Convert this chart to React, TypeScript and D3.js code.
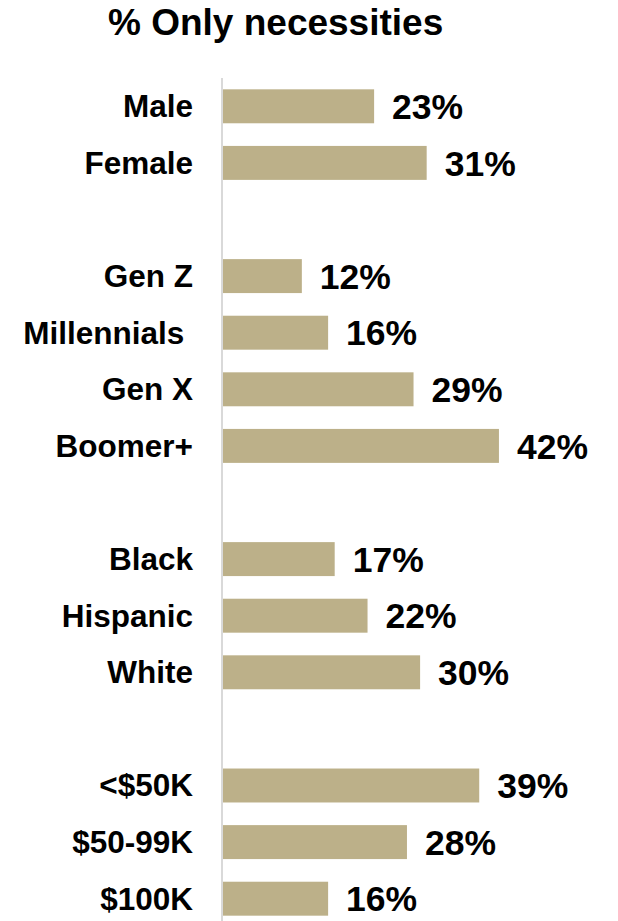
import React from "react";
import * as d3 from "d3";

const categories = ["Male", "Female", "", "Gen Z", "Millennials ", "Gen X", "Boomer+", " ", "Black", "Hispanic", "White", "  ", "<$50K", "$50-99K", "$100K"];
const values: (number | null)[] = [23, 31, null, 12, 16, 29, 42, null, 17, 22, 30, null, 39, 28, 16];
const title = "% Only necessities";

const W = 618;
const H = 921;
const FONT = "'Liberation Sans', Arial, sans-serif";

export default function App() {
  const y = d3.scaleBand<string>().domain(categories).range([78, 927]).paddingInner(0.4).paddingOuter(0.2);
  const x = d3.scaleLinear().domain([0, 100]).range([223, 223 + 657]);
  const bw = y.bandwidth();
  return (
    <svg width={W} height={H} style={{ position: "absolute", left: 0, top: 0, display: "block" }} fontFamily={FONT}>
      <rect width={W} height={H} fill="#ffffff" />
      <text x={108} y={35} textAnchor="start" fontSize={37} fontWeight="bold" fill="#000">{title}</text>
      <line x1={222} x2={222} y1={78} y2={H} stroke="#d9d9d9" strokeWidth={2} />
      {categories.map((c, i) => {
        const v = values[i];
        const yy = y(c)!;
        const cy = yy + bw / 2;
        if (v === null) return null;
        return (
          <g key={i}>
            <rect x={x(0)} y={yy} width={x(v) - x(0)} height={bw} fill="#bcb089" />
            <text x={193} y={cy + 10.8} textAnchor="end" fontSize={31.5} fontWeight="bold" fill="#000" style={{ whiteSpace: "pre" }}>{c}</text>
            <text x={x(v) + 18} y={cy + 12.7} fontSize={35.5} fontWeight="bold" fill="#000">{v}%</text>
          </g>
        );
      })}
    </svg>
  );
}
